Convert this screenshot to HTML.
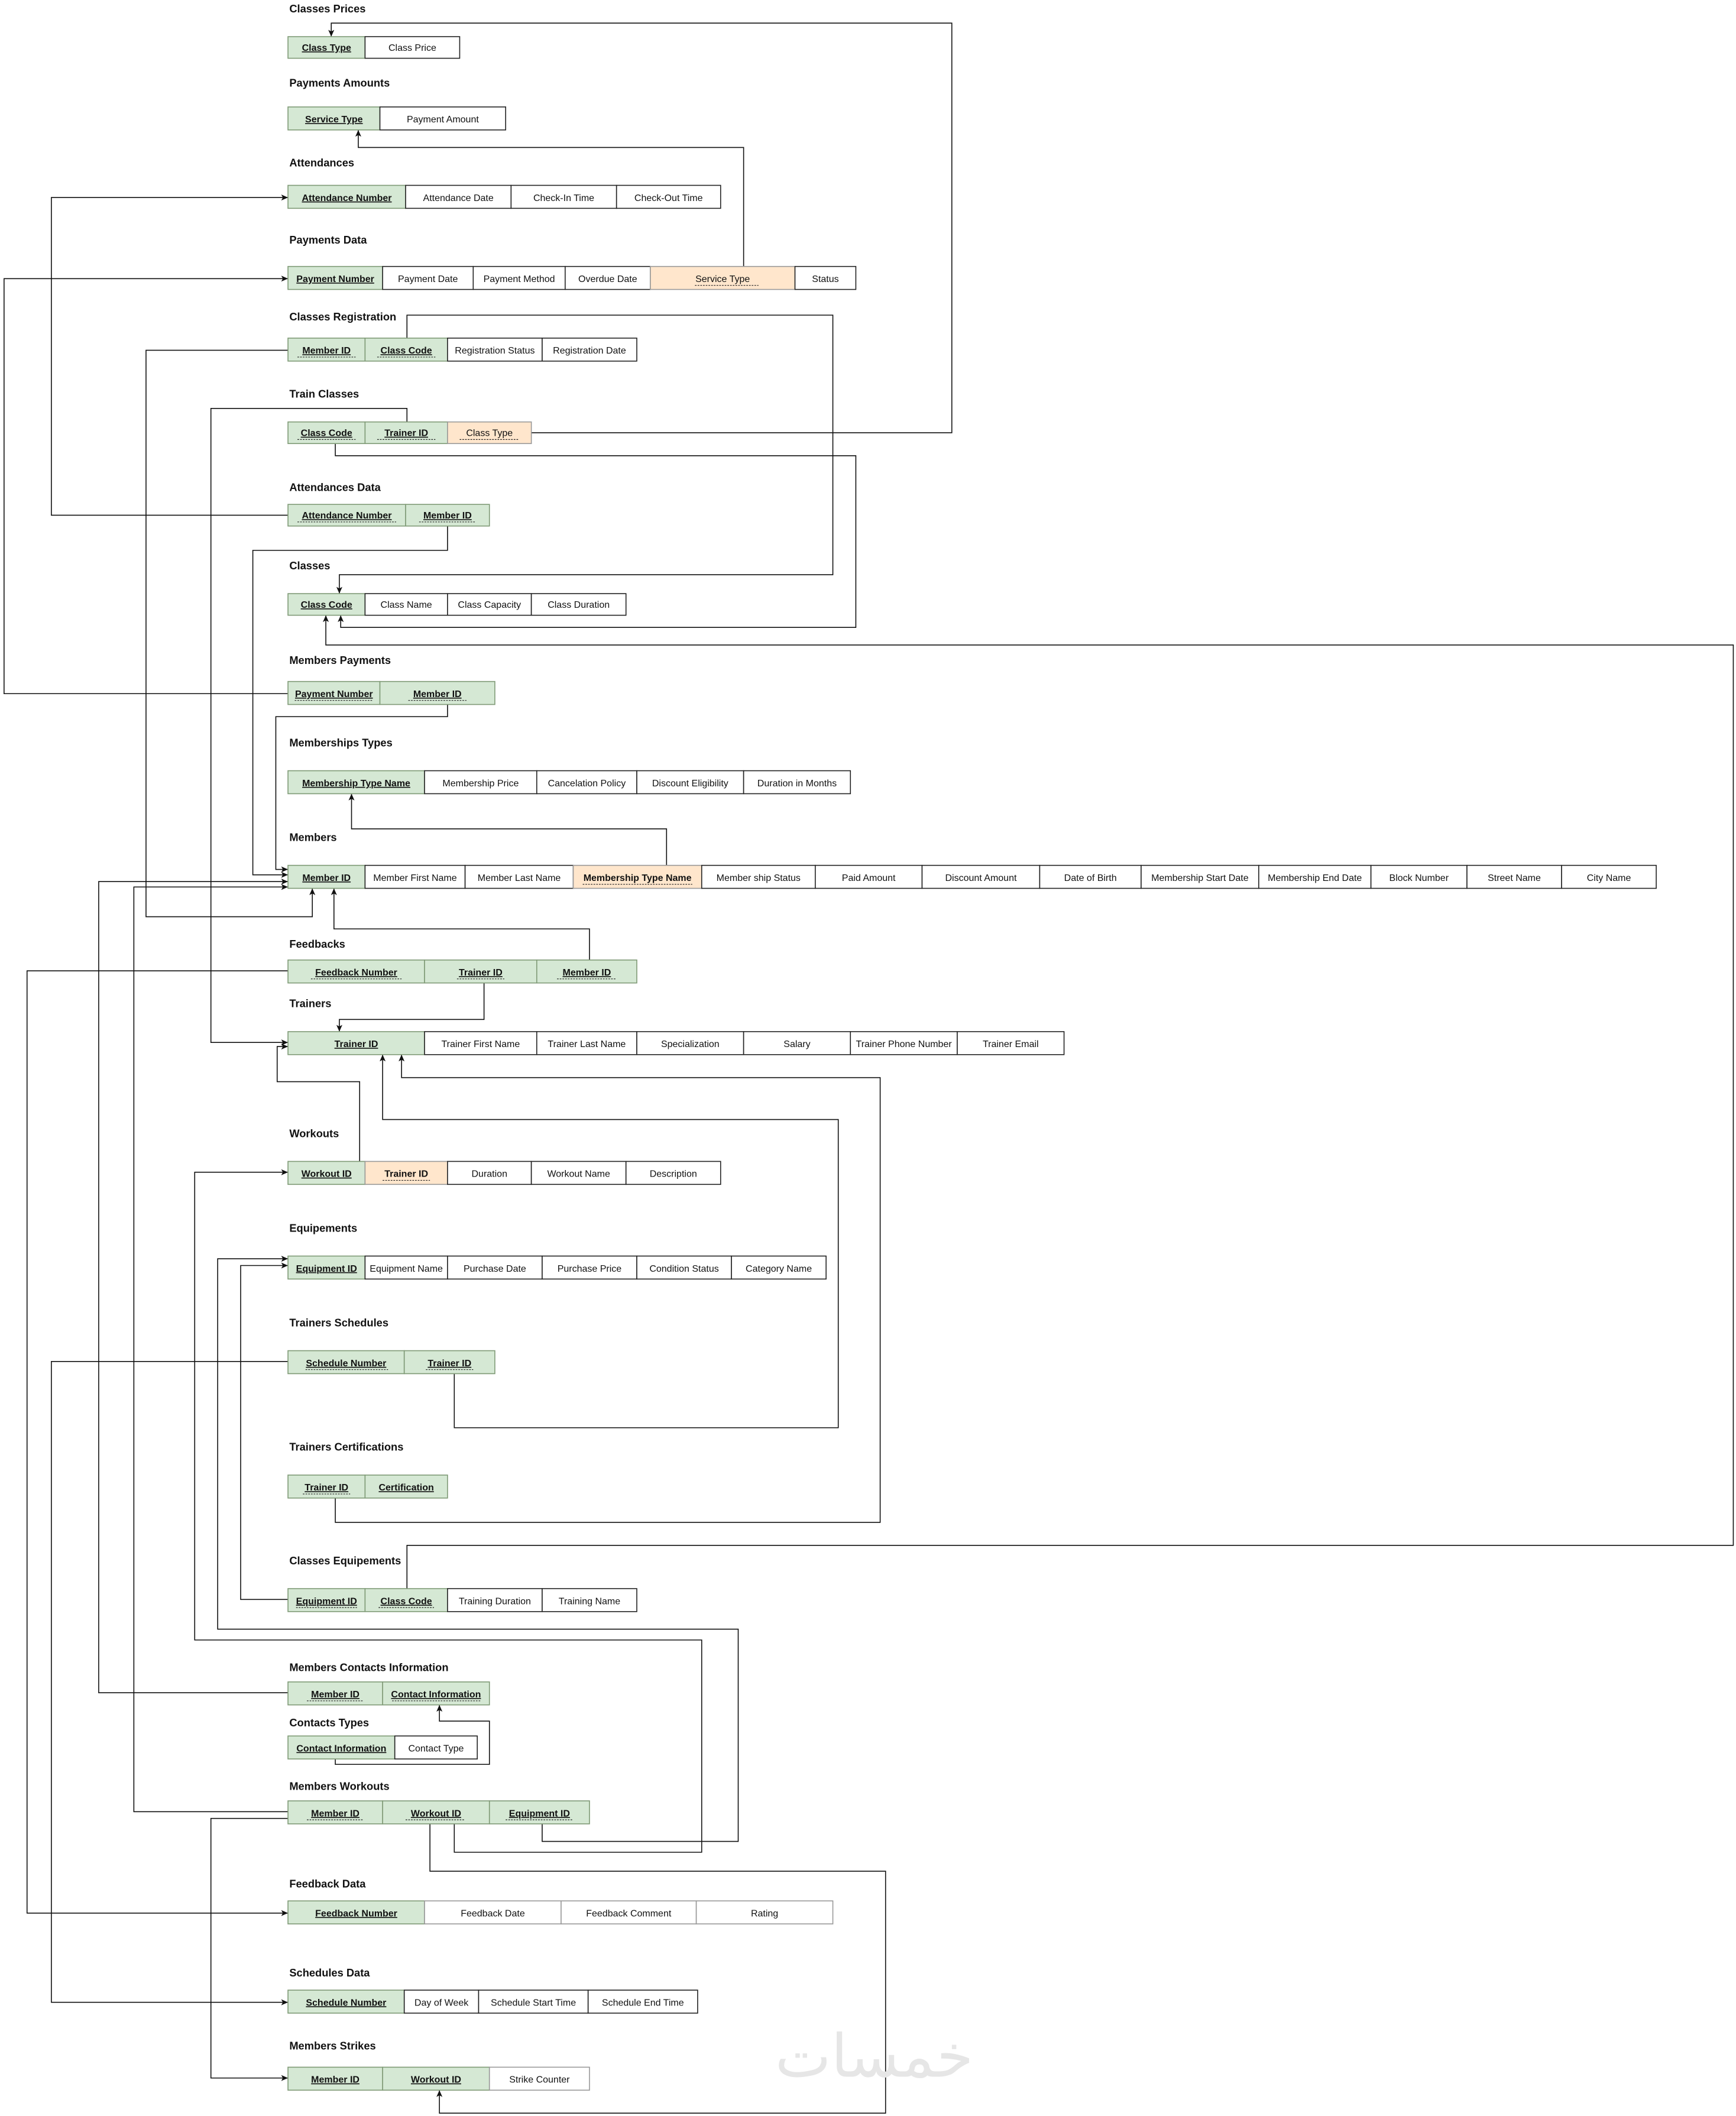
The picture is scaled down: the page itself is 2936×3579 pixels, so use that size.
<!DOCTYPE html>
<html><head><meta charset="utf-8"><style>
html,body{margin:0;padding:0;background:#fff}
svg{display:block}
text{font-family:"Liberation Sans",Arial,sans-serif;font-size:7px;fill:#111}
.t{font-size:8px;font-weight:bold}
.k{font-weight:bold;text-decoration:underline}
.g{fill:#d5e8d4;stroke:#7f9a76;stroke-width:0.7}
.w{fill:#fff;stroke:#222;stroke-width:0.7}
.o{fill:#ffe6cc;stroke:#999;stroke-width:0.7}
.d{stroke:#222;stroke-width:0.5;stroke-dasharray:1.2 0.8}
.c{fill:none;stroke:#111;stroke-width:0.7}
</style></head><body>
<svg width="2936" height="3579" viewBox="0 0 1284 1565" xmlns="http://www.w3.org/2000/svg">
<defs><marker id="a" markerWidth="6" markerHeight="6" refX="5" refY="3" orient="auto" markerUnits="userSpaceOnUse"><path d="M0,0.8 L5,3 L0,5.2 L1.2,3 z" fill="#111"/></marker></defs>

<!-- connectors -->
<g class="c" marker-end="url(#a)">
<polyline points="393,320 704,320 704,17 245,17 245,27"/>
<polyline points="550,197 550,109 265,109 265,96"/>
<polyline points="213,381 38,381 38,146 213,146"/>
<polyline points="213,513 3,513 3,206 213,206"/>
<polyline points="301,250 301,233 616,233 616,425 251,425 251,439"/>
<polyline points="213,259 108,259 108,678 231,678 231,657"/>
<polyline points="301,312 301,302 156,302 156,771 213,771"/>
<polyline points="248,328 248,337 633,337 633,464 252,464 252,455"/>
<polyline points="331,389 331,407 187,407 187,647 213,647"/>
<polyline points="331,521 331,530 204,530 204,643 213,643"/>
<polyline points="493,640 493,613 260,613 260,587"/>
<polyline points="301,1175 301,1143 1282,1143 1282,477 241,477 241,455"/>
<polyline points="436,710 436,687 247,687 247,657"/>
<polyline points="358,727 358,754 251,754 251,763"/>
<polyline points="213,718 20,718 20,1415 213,1415"/>
<polyline points="266,859 266,800 205,800 205,774 213,774"/>
<polyline points="336,1016 336,1056 620,1056 620,828 283,828 283,780"/>
<polyline points="248,1108 248,1126 651,1126 651,797 297,797 297,780"/>
<polyline points="213,1007 38,1007 38,1481 213,1481"/>
<polyline points="213,1252 73,1252 73,652 213,652"/>
<polyline points="248,1301 248,1305 362,1305 362,1273 325,1273 325,1261"/>
<polyline points="213,1340 99,1340 99,656 213,656"/>
<polyline points="336,1349 336,1370 519,1370 519,1213 144,1213 144,867 213,867"/>
<polyline points="401,1349 401,1362 546,1362 546,1205 161,1205 161,931 213,931"/>
<polyline points="213,1183 178,1183 178,936 213,936"/>
<polyline points="213,1345 156,1345 156,1537 213,1537"/>
<polyline points="318,1349 318,1384 655,1384 655,1563 325,1563 325,1546"/>
</g>

<text x="720" y="1536" text-anchor="end" style="font-family:'DejaVu Sans',sans-serif;font-size:44px;fill:#e6e6e6">خمسات</text>

<!-- tables -->
<g text-anchor="middle">
<text class="t" x="214" y="9" text-anchor="start">Classes Prices</text>
<rect class="g" x="213" y="27" width="57" height="16"/><text class="k" x="241.5" y="37.5">Class Type</text>
<rect class="w" x="270" y="27" width="70" height="16"/><text x="305" y="37.5">Class Price</text>

<text class="t" x="214" y="64" text-anchor="start">Payments Amounts</text>
<rect class="g" x="213" y="79" width="68" height="17"/><text class="k" x="247" y="90.5">Service Type</text>
<rect class="w" x="281" y="79" width="93" height="17"/><text x="327.5" y="90.5">Payment Amount</text>

<text class="t" x="214" y="123" text-anchor="start">Attendances</text>
<rect class="g" x="213" y="137" width="87" height="17"/><text class="k" x="256.5" y="148.5">Attendance Number</text>
<rect class="w" x="300" y="137" width="78" height="17"/><text x="339" y="148.5">Attendance Date</text>
<rect class="w" x="378" y="137" width="78" height="17"/><text x="417" y="148.5">Check-In Time</text>
<rect class="w" x="456" y="137" width="77" height="17"/><text x="494.5" y="148.5">Check-Out Time</text>

<text class="t" x="214" y="180" text-anchor="start">Payments Data</text>
<rect class="g" x="213" y="197" width="70" height="17"/><text class="k" x="248" y="208.5">Payment Number</text>
<rect class="w" x="283" y="197" width="67" height="17"/><text x="316.5" y="208.5">Payment Date</text>
<rect class="w" x="350" y="197" width="68" height="17"/><text x="384" y="208.5">Payment Method</text>
<rect class="w" x="418" y="197" width="63" height="17"/><text x="449.5" y="208.5">Overdue Date</text>
<rect class="o" x="481" y="197" width="107" height="17"/><text x="534.5" y="208.5">Service Type</text><line class="d" x1="514" y1="211" x2="561" y2="211"/>
<rect class="w" x="588" y="197" width="45" height="17"/><text x="610.5" y="208.5">Status</text>

<text class="t" x="214" y="237" text-anchor="start">Classes Registration</text>
<rect class="g" x="213" y="250" width="57" height="17"/><text class="k" x="241.5" y="261.5">Member ID</text><line class="d" x1="220" y1="264" x2="263" y2="264"/>
<rect class="g" x="270" y="250" width="61" height="17"/><text class="k" x="300.5" y="261.5">Class Code</text><line class="d" x1="279" y1="264" x2="322" y2="264"/>
<rect class="w" x="331" y="250" width="70" height="17"/><text x="366" y="261.5">Registration Status</text>
<rect class="w" x="401" y="250" width="70" height="17"/><text x="436" y="261.5">Registration Date</text>

<text class="t" x="214" y="294" text-anchor="start">Train Classes</text>
<rect class="g" x="213" y="312" width="57" height="16"/><text class="k" x="241.5" y="322.5">Class Code</text><line class="d" x1="220" y1="325" x2="263" y2="325"/>
<rect class="g" x="270" y="312" width="61" height="16"/><text class="k" x="300.5" y="322.5">Trainer ID</text><line class="d" x1="279" y1="325" x2="322" y2="325"/>
<rect class="o" x="331" y="312" width="62" height="16"/><text x="362" y="322.5">Class Type</text><line class="d" x1="340" y1="325" x2="384" y2="325"/>

<text class="t" x="214" y="363" text-anchor="start">Attendances Data</text>
<rect class="g" x="213" y="373" width="87" height="16"/><text class="k" x="256.5" y="383.5">Attendance Number</text><line class="d" x1="220" y1="386" x2="293" y2="386"/>
<rect class="g" x="300" y="373" width="62" height="16"/><text class="k" x="331" y="383.5">Member ID</text><line class="d" x1="310" y1="386" x2="352" y2="386"/>

<text class="t" x="214" y="421" text-anchor="start">Classes</text>
<rect class="g" x="213" y="439" width="57" height="16"/><text class="k" x="241.5" y="449.5">Class Code</text>
<rect class="w" x="270" y="439" width="61" height="16"/><text x="300.5" y="449.5">Class Name</text>
<rect class="w" x="331" y="439" width="62" height="16"/><text x="362" y="449.5">Class Capacity</text>
<rect class="w" x="393" y="439" width="70" height="16"/><text x="428" y="449.5">Class Duration</text>

<text class="t" x="214" y="491" text-anchor="start">Members Payments</text>
<rect class="g" x="213" y="504" width="68" height="17"/><text class="k" x="247" y="515.5">Payment Number</text><line class="d" x1="218" y1="518" x2="276" y2="518"/>
<rect class="g" x="281" y="504" width="85" height="17"/><text class="k" x="323.5" y="515.5">Member ID</text><line class="d" x1="302" y1="518" x2="345" y2="518"/>

<text class="t" x="214" y="552" text-anchor="start">Memberships Types</text>
<rect class="g" x="213" y="570" width="101" height="17"/><text class="k" x="263.5" y="581.5">Membership Type Name</text>
<rect class="w" x="314" y="570" width="83" height="17"/><text x="355.5" y="581.5">Membership Price</text>
<rect class="w" x="397" y="570" width="74" height="17"/><text x="434" y="581.5">Cancelation Policy</text>
<rect class="w" x="471" y="570" width="79" height="17"/><text x="510.5" y="581.5">Discount Eligibility</text>
<rect class="w" x="550" y="570" width="79" height="17"/><text x="589.5" y="581.5">Duration in Months</text>

<text class="t" x="214" y="622" text-anchor="start">Members</text>
<rect class="g" x="213" y="640" width="57" height="17"/><text class="k" x="241.5" y="651.5">Member ID</text>
<rect class="w" x="270" y="640" width="74" height="17"/><text x="307" y="651.5">Member First Name</text>
<rect class="w" x="344" y="640" width="80" height="17"/><text x="384" y="651.5">Member Last Name</text>
<rect class="o" x="424" y="640" width="95" height="17"/><text style="font-weight:bold" x="471.5" y="651.5">Membership Type Name</text><line class="d" x1="431" y1="654" x2="512" y2="654"/>
<rect class="w" x="519" y="640" width="84" height="17"/><text x="561" y="651.5">Member ship Status</text>
<rect class="w" x="603" y="640" width="79" height="17"/><text x="642.5" y="651.5">Paid Amount</text>
<rect class="w" x="682" y="640" width="87" height="17"/><text x="725.5" y="651.5">Discount Amount</text>
<rect class="w" x="769" y="640" width="75" height="17"/><text x="806.5" y="651.5">Date of Birth</text>
<rect class="w" x="844" y="640" width="87" height="17"/><text x="887.5" y="651.5">Membership Start Date</text>
<rect class="w" x="931" y="640" width="83" height="17"/><text x="972.5" y="651.5">Membership End Date</text>
<rect class="w" x="1014" y="640" width="71" height="17"/><text x="1049.5" y="651.5">Block Number</text>
<rect class="w" x="1085" y="640" width="70" height="17"/><text x="1120" y="651.5">Street Name</text>
<rect class="w" x="1155" y="640" width="70" height="17"/><text x="1190" y="651.5">City Name</text>

<text class="t" x="214" y="701" text-anchor="start">Feedbacks</text>
<rect class="g" x="213" y="710" width="101" height="17"/><text class="k" x="263.5" y="721.5">Feedback Number</text><line class="d" x1="230" y1="724" x2="297" y2="724"/>
<rect class="g" x="314" y="710" width="83" height="17"/><text class="k" x="355.5" y="721.5">Trainer ID</text><line class="d" x1="338" y1="724" x2="373" y2="724"/>
<rect class="g" x="397" y="710" width="74" height="17"/><text class="k" x="434" y="721.5">Member ID</text><line class="d" x1="412" y1="724" x2="456" y2="724"/>

<text class="t" x="214" y="745" text-anchor="start">Trainers</text>
<rect class="g" x="213" y="763" width="101" height="17"/><text class="k" x="263.5" y="774.5">Trainer ID</text>
<rect class="w" x="314" y="763" width="83" height="17"/><text x="355.5" y="774.5">Trainer First Name</text>
<rect class="w" x="397" y="763" width="74" height="17"/><text x="434" y="774.5">Trainer Last Name</text>
<rect class="w" x="471" y="763" width="79" height="17"/><text x="510.5" y="774.5">Specialization</text>
<rect class="w" x="550" y="763" width="79" height="17"/><text x="589.5" y="774.5">Salary</text>
<rect class="w" x="629" y="763" width="79" height="17"/><text x="668.5" y="774.5">Trainer Phone Number</text>
<rect class="w" x="708" y="763" width="79" height="17"/><text x="747.5" y="774.5">Trainer Email</text>

<text class="t" x="214" y="841" text-anchor="start">Workouts</text>
<rect class="g" x="213" y="859" width="57" height="17"/><text class="k" x="241.5" y="870.5">Workout ID</text>
<rect class="o" x="270" y="859" width="61" height="17"/><text style="font-weight:bold" x="300.5" y="870.5">Trainer ID</text><line class="d" x1="283" y1="873" x2="318" y2="873"/>
<rect class="w" x="331" y="859" width="62" height="17"/><text x="362" y="870.5">Duration</text>
<rect class="w" x="393" y="859" width="70" height="17"/><text x="428" y="870.5">Workout Name</text>
<rect class="w" x="463" y="859" width="70" height="17"/><text x="498" y="870.5">Description</text>

<text class="t" x="214" y="911" text-anchor="start">Equipements</text>
<rect class="g" x="213" y="929" width="57" height="17"/><text class="k" x="241.5" y="940.5">Equipment ID</text>
<rect class="w" x="270" y="929" width="61" height="17"/><text x="300.5" y="940.5">Equipment Name</text>
<rect class="w" x="331" y="929" width="70" height="17"/><text x="366" y="940.5">Purchase Date</text>
<rect class="w" x="401" y="929" width="70" height="17"/><text x="436" y="940.5">Purchase Price</text>
<rect class="w" x="471" y="929" width="70" height="17"/><text x="506" y="940.5">Condition Status</text>
<rect class="w" x="541" y="929" width="70" height="17"/><text x="576" y="940.5">Category Name</text>

<text class="t" x="214" y="981" text-anchor="start">Trainers Schedules</text>
<rect class="g" x="213" y="999" width="86" height="17"/><text class="k" x="256" y="1010.5">Schedule Number</text><line class="d" x1="226" y1="1013" x2="287" y2="1013"/>
<rect class="g" x="299" y="999" width="67" height="17"/><text class="k" x="332.5" y="1010.5">Trainer ID</text><line class="d" x1="315" y1="1013" x2="350" y2="1013"/>

<text class="t" x="214" y="1073" text-anchor="start">Trainers Certifications</text>
<rect class="g" x="213" y="1091" width="57" height="17"/><text class="k" x="241.5" y="1102.5">Trainer ID</text><line class="d" x1="224" y1="1105" x2="259" y2="1105"/>
<rect class="g" x="270" y="1091" width="61" height="17"/><text class="k" x="300.5" y="1102.5">Certification</text>

<text class="t" x="214" y="1157" text-anchor="start">Classes Equipements</text>
<rect class="g" x="213" y="1175" width="57" height="17"/><text class="k" x="241.5" y="1186.5">Equipment ID</text><line class="d" x1="219" y1="1189" x2="264" y2="1189"/>
<rect class="g" x="270" y="1175" width="61" height="17"/><text class="k" x="300.5" y="1186.5">Class Code</text><line class="d" x1="280" y1="1189" x2="321" y2="1189"/>
<rect class="w" x="331" y="1175" width="70" height="17"/><text x="366" y="1186.5">Training Duration</text>
<rect class="w" x="401" y="1175" width="70" height="17"/><text x="436" y="1186.5">Training Name</text>

<text class="t" x="214" y="1236" text-anchor="start">Members Contacts Information</text>
<rect class="g" x="213" y="1244" width="70" height="17"/><text class="k" x="248" y="1255.5">Member ID</text><line class="d" x1="227" y1="1258" x2="269" y2="1258"/>
<rect class="g" x="283" y="1244" width="79" height="17"/><text class="k" x="322.5" y="1255.5">Contact Information</text><line class="d" x1="290" y1="1258" x2="356" y2="1258"/>

<text class="t" x="214" y="1277" text-anchor="start">Contacts Types</text>
<rect class="g" x="213" y="1284" width="79" height="17"/><text class="k" x="252.5" y="1295.5">Contact Information</text>
<rect class="w" x="292" y="1284" width="61" height="17"/><text x="322.5" y="1295.5">Contact Type</text>

<text class="t" x="214" y="1324" text-anchor="start">Members Workouts</text>
<rect class="g" x="213" y="1332" width="70" height="17"/><text class="k" x="248" y="1343.5">Member ID</text><line class="d" x1="227" y1="1346" x2="269" y2="1346"/>
<rect class="g" x="283" y="1332" width="79" height="17"/><text class="k" x="322.5" y="1343.5">Workout ID</text><line class="d" x1="300" y1="1346" x2="344" y2="1346"/>
<rect class="g" x="362" y="1332" width="74" height="17"/><text class="k" x="399" y="1343.5">Equipment ID</text><line class="d" x1="374" y1="1346" x2="424" y2="1346"/>

<text class="t" x="214" y="1396" text-anchor="start">Feedback Data</text>
<rect class="g" x="213" y="1406" width="101" height="17"/><text class="k" x="263.5" y="1417.5">Feedback Number</text>
<rect class="w" x="314" y="1406" width="101" height="17" style="stroke:#999"/><text x="364.5" y="1417.5">Feedback Date</text>
<rect class="w" x="415" y="1406" width="100" height="17" style="stroke:#999"/><text x="465" y="1417.5">Feedback Comment</text>
<rect class="w" x="515" y="1406" width="101" height="17" style="stroke:#999"/><text x="565.5" y="1417.5">Rating</text>

<text class="t" x="214" y="1462" text-anchor="start">Schedules Data</text>
<rect class="g" x="213" y="1472" width="86" height="17"/><text class="k" x="256" y="1483.5">Schedule Number</text>
<rect class="w" x="299" y="1472" width="55" height="17"/><text x="326.5" y="1483.5">Day of Week</text>
<rect class="w" x="354" y="1472" width="81" height="17"/><text x="394.5" y="1483.5">Schedule Start Time</text>
<rect class="w" x="435" y="1472" width="81" height="17"/><text x="475.5" y="1483.5">Schedule End Time</text>

<text class="t" x="214" y="1516" text-anchor="start">Members Strikes</text>
<rect class="g" x="213" y="1529" width="70" height="17"/><text class="k" x="248" y="1540.5">Member ID</text>
<rect class="g" x="283" y="1529" width="79" height="17"/><text class="k" x="322.5" y="1540.5">Workout ID</text>
<rect class="w" x="362" y="1529" width="74" height="17" style="stroke:#999"/><text x="399" y="1540.5">Strike Counter</text>
</g>
</svg>
</body></html>
